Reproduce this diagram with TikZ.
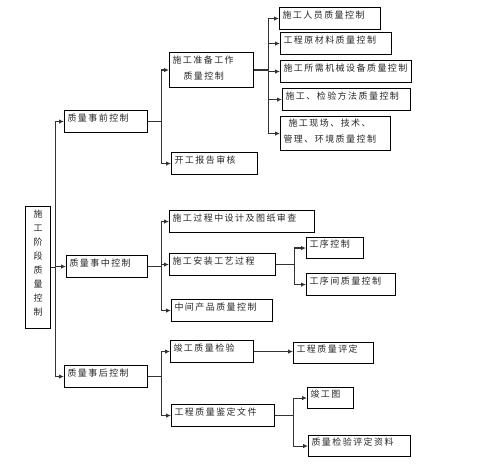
\documentclass[tikz,border=0pt]{standalone}
\usepackage{fontspec}
\newfontfamily\cjk[LetterSpace=16]{Noto Sans CJK SC}
\usetikzlibrary{arrows.meta}

\tikzset{
  box/.style={draw, line width=1.1pt, anchor=north west, inner xsep=3pt, inner ysep=2pt,
    align=left, text depth=8pt, minimum height=22pt, text=black!85,
    font=\cjk\fontsize{9}{15.5}\selectfont},
  link/.style={line width=1.1pt, draw=black!80, -{Latex[length=5pt,width=4.5pt]}},
}

\begin{document}
\begin{tikzpicture}[x=1pt,y=-1pt]
    \useasboundingbox (0,0) rectangle (490,465);

    % root
    \node[box, text width=19pt, align=center, minimum height=122pt, text depth=107pt,
        font=\cjk\fontsize{9}{13.9}\selectfont]
        (root) at (25,206) {施\\工\\阶\\段\\质\\量\\控\\制};

    % stages
    \node[box, text width=77pt] (pre) at (64,110) {质量事前控制};
    \node[box, text width=75pt] (mid) at (66,255) {质量事中控制};
    \node[box, text width=77pt] (post) at (64,365) {质量事后控制};

    % before
    \node[box, text width=78pt, minimum height=35pt, text depth=20pt,
        font=\cjk\fontsize{9}{16}\selectfont] (prep) at (169,52) {施工准备工作\\\hspace{11pt}质量控制};
    \node[box, text width=80pt] (report) at (171,152) {开工报告审核};
    \node[box, text width=95pt] (staff) at (279,7) {施工人员质量控制};
    \node[box, text width=105pt] (material) at (280,32) {工程原材料质量控制};
    \node[box, text width=125pt] (machine) at (280,60) {施工所需机械设备质量控制};
    \node[box, text width=122pt] (method) at (282,88) {施工、检验方法质量控制};
    \node[box, text width=104pt, minimum height=34pt, text depth=21pt, inner ysep=1pt]
        (site) at (280,116) {\hspace{5pt}施工现场、技术、\\管理、环境质量控制};

    % during
    \node[box, text width=139pt] (design) at (169,210) {施工过程中设计及图纸审查};
    \node[box, text width=100pt] (install) at (169,253) {施工安装工艺过程};
    \node[box, text width=95pt] (product) at (171,299) {中间产品质量控制};
    \node[box, text width=51pt, minimum height=21pt] (proc) at (306,237) {工序控制};
    \node[box, text width=83pt] (between) at (306,273) {工序间质量控制};

    % after
    \node[box, text width=77pt] (check) at (170,340) {竣工质量检验};
    \node[box, text width=97pt] (docs) at (171,404) {工程质量鉴定文件};
    \node[box, text width=74pt, minimum height=21pt] (rating) at (293,342) {工程质量评定};
    \node[box, text width=40pt, minimum height=21pt] (drawing) at (307,387) {竣工图};
    \node[box, text width=96pt, minimum height=21pt] (records) at (308,435) {质量检验评定资料};

    % links
    \foreach \child in {pre,mid,post}
        \draw[link] (root.east) -- ++(4,0) |- (\child.west);
    \foreach \child in {prep,report}
        \draw[link] (pre.east) -- ++(13,0) |- (\child.west);
    \foreach \child in {staff,material,machine,method,site}
        \draw[link] (prep.east) -- ++(14,0) |- (\child.west);
    \foreach \child in {design,install,product}
        \draw[link] (mid.east) -- ++(13,0) |- (\child.west);
    \foreach \child in {proc,between}
        \draw[link] (install.east) -- ++(18,0) |- (\child.west);
    \foreach \child in {check,docs}
        \draw[link] (post.east) -- ++(13,0) |- (\child.west);
    \draw[link] (check.east) -- (check.east -| rating.west);
    \foreach \child in {drawing,records}
        \draw[link] (docs.east) -- ++(18,0) |- (\child.west);

\end{tikzpicture}
\end{document}
